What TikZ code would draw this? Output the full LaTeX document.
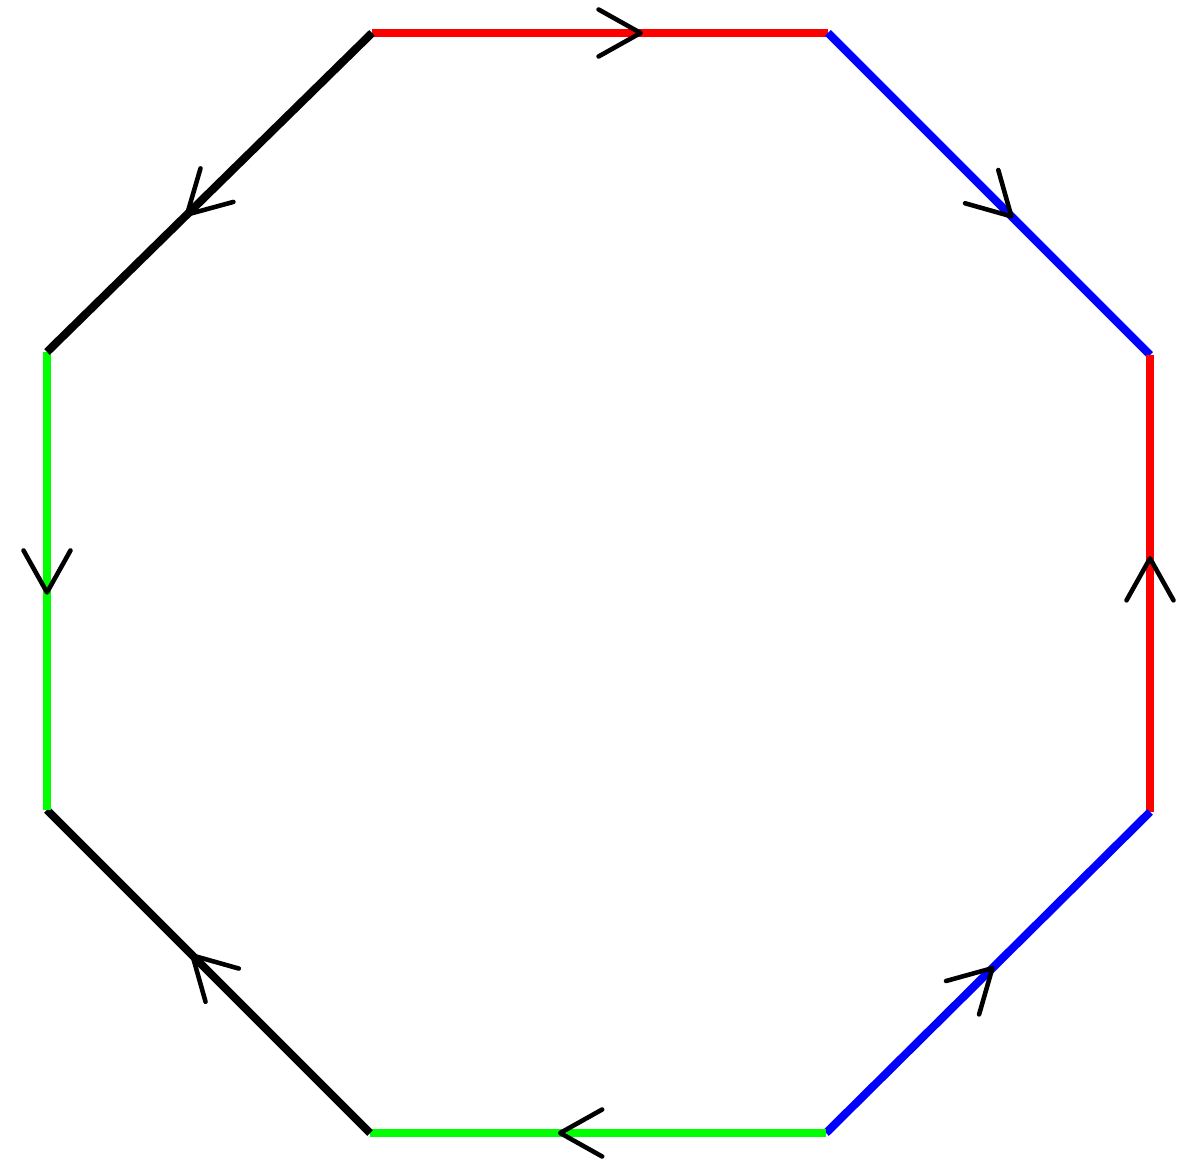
\documentclass[tikz,border=0pt]{standalone}
\usepackage{tikz}
\usetikzlibrary{arrows.meta,calc,decorations.markings}
\tikzset{
  oedge/.style={line width=2.3pt},
  otip/.style={decoration={markings,mark=at position #1 with {\arrow[black]{Straight Barb[length=4.2mm,width=4.7mm,line width=1.3pt,round]}}},postaction={decorate}}
}
\begin{document}
\begin{tikzpicture}
  \useasboundingbox (0,0) rectangle (11.90,11.58);
  % corners of the octagon
  \coordinate (A) at (3.72,11.25);
  \coordinate (B) at (8.28,11.25);
  \coordinate (C) at (11.50,8.03);
  \coordinate (D) at (11.50,3.46);
  \coordinate (E) at (8.26,0.25);
  \coordinate (F) at (3.70,0.25);
  \coordinate (G) at (0.47,3.48);
  \coordinate (H) at (0.47,8.06);
  % edges, each with its arrow
  \foreach \p/\q/\col/\pos in {A/B/red/0.594,B/C/blue/0.575,D/C/red/0.56,E/D/blue/0.52,E/F/green/0.588,F/G/black/0.557,H/G/green/0.53,A/H/black/0.575}{
    \draw[oedge,draw=\col,otip=\pos] (\p) -- (\q);
  }
\end{tikzpicture}
\end{document}
